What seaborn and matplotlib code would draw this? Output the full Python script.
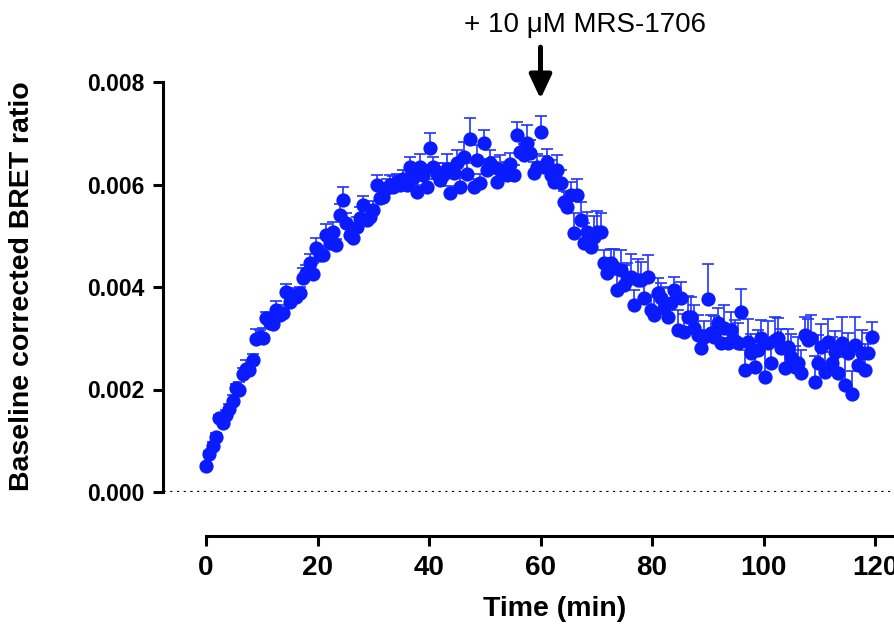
import numpy as np
import pandas as pd
import matplotlib
matplotlib.use("Agg")
import matplotlib.pyplot as plt
import seaborn as sns

# ---- data (values x 1e-3) ----
time_min = [round(i * 0.6, 1) for i in range(200)]

bret_milli = [
    0.50, 0.74, 0.90, 1.08, 1.45, 1.35, 1.50, 1.62, 1.78, 2.03,
    2.00, 2.30, 2.40, 2.38, 2.58, 2.98, 3.02, 3.00, 3.40, 3.30,
    3.28, 3.55, 3.45, 3.50, 3.90, 3.70, 3.82, 3.80, 3.88, 4.18,
    4.27, 4.47, 4.25, 4.76, 4.62, 4.62, 5.01, 4.86, 5.07, 4.82,
    5.40, 5.70, 5.25, 5.01, 4.96, 5.17, 5.35, 5.60, 5.30, 5.37,
    5.50, 5.99, 5.74, 5.76, 5.93, 5.99, 5.95, 6.05, 5.99, 6.10,
    5.99, 6.34, 6.13, 5.85, 6.34, 6.19, 5.95, 6.71, 6.34, 6.20,
    6.09, 6.19, 6.30, 5.83, 6.22, 6.42, 5.95, 6.54, 6.20, 6.89,
    5.95, 6.48, 6.03, 6.81, 6.28, 6.42, 6.34, 6.05, 6.28, 6.20,
    6.19, 6.40, 6.19, 6.97, 6.64, 6.58, 6.81, 6.62, 6.22, 6.35,
    7.03, 6.34, 6.44, 6.19, 6.05, 6.28, 6.03, 5.66, 5.56, 5.80,
    5.05, 5.80, 5.31, 4.86, 5.07, 4.78, 4.98, 5.07, 5.07, 4.47,
    4.27, 4.47, 4.40, 3.94, 4.33, 4.04, 4.14, 4.20, 3.65, 4.14,
    4.14, 3.79, 4.20, 3.55, 3.45, 3.88, 3.79, 3.60, 3.42, 3.69,
    3.94, 3.16, 3.79, 3.12, 3.42, 3.42, 3.20, 3.06, 2.81, 3.03,
    3.77, 3.10, 3.03, 3.30, 2.91, 3.20, 2.91, 3.16, 2.95, 2.91,
    3.51, 2.38, 2.93, 2.71, 2.44, 2.77, 3.00, 2.25, 2.91, 2.52,
    2.97, 3.00, 2.81, 2.42, 2.83, 2.63, 2.44, 2.52, 2.32, 3.06,
    2.97, 3.00, 2.15, 2.52, 2.83, 2.34, 2.93, 2.52, 2.73, 2.32,
    2.91, 2.09, 2.71, 1.91, 2.87, 2.48, 2.71, 2.38, 2.71, 3.03,
]

sem_milli = [
    0.05, 0.06, 0.07, 0.08, 0.06, 0.08, 0.10, 0.09, 0.12, 0.08,
    0.15, 0.12, 0.18, 0.10, 0.12, 0.20, 0.15, 0.20, 0.12, 0.18,
    0.15, 0.18, 0.20, 0.10, 0.16, 0.20, 0.15, 0.18, 0.12, 0.20,
    0.15, 0.18, 0.22, 0.20, 0.15, 0.18, 0.22, 0.18, 0.20, 0.12,
    0.22, 0.25, 0.20, 0.15, 0.18, 0.20, 0.22, 0.18, 0.25, 0.15,
    0.18, 0.20, 0.15, 0.25, 0.18, 0.20, 0.22, 0.15, 0.20, 0.18,
    0.22, 0.20, 0.18, 0.15, 0.25, 0.20, 0.15, 0.30, 0.20, 0.22,
    0.25, 0.22, 0.30, 0.15, 0.20, 0.25, 0.18, 0.28, 0.22, 0.40,
    0.15, 0.30, 0.18, 0.25, 0.22, 0.25, 0.20, 0.18, 0.30, 0.22,
    0.25, 0.22, 0.20, 0.25, 0.20, 0.22, 0.35, 0.25, 0.22, 0.25,
    0.30, 0.22, 0.25, 0.28, 0.22, 0.30, 0.25, 0.22, 0.30, 0.25,
    0.40, 0.30, 0.35, 0.38, 0.40, 0.35, 0.40, 0.42, 0.38, 0.25,
    0.30, 0.28, 0.35, 0.30, 0.40, 0.38, 0.32, 0.45, 0.30, 0.40,
    0.35, 0.30, 0.42, 0.30, 0.35, 0.30, 0.28, 0.40, 0.35, 0.30,
    0.25, 0.40, 0.30, 0.35, 0.40, 0.38, 0.45, 0.40, 0.35, 0.30,
    0.68, 0.35, 0.40, 0.30, 0.38, 0.45, 0.30, 0.35, 0.40, 0.38,
    0.45, 0.40, 0.45, 0.38, 0.50, 0.40, 0.35, 0.55, 0.42, 0.45,
    0.45, 0.40, 0.38, 0.50, 0.35, 0.45, 0.40, 0.50, 0.45, 0.35,
    0.40, 0.45, 0.50, 0.55, 0.45, 0.40, 0.45, 0.50, 0.42, 0.55,
    0.50, 0.55, 0.40, 0.45, 0.55, 0.40, 0.45, 0.50, 0.40, 0.28,
]

y_ticks = [0.000, 0.002, 0.004, 0.006, 0.008]
x_ticks = [0, 20, 40, 60, 80, 100, 120]
addition_time = 60
annotation_text = "+ 10 \u03bcM MRS-1706"

df = pd.DataFrame({
    "time": time_min,
    "bret": np.array(bret_milli) * 1e-3,
    "sem": np.array(sem_milli) * 1e-3,
})

# ---- style ----
sns.set_theme(style="ticks")
plt.rcParams["font.family"] = ["Liberation Sans", "DejaVu Sans"]

W, H = 894, 625
fig = plt.figure(figsize=(W / 100, H / 100), dpi=100)
ax_left, ax_right, ax_top, ax_bot = 163, 894, 82, 492
ax = fig.add_axes([ax_left / W, (H - ax_bot) / H,
                   (ax_right - ax_left) / W, (ax_bot - ax_top) / H])

pt_color = "#0a1cff"
err_color = "#2034ff"

# error bars (upper only)
ax.errorbar(df["time"], df["bret"], yerr=[np.zeros(len(df)), df["sem"]],
            fmt="none", ecolor=err_color, elinewidth=1.2, capsize=4.6,
            capthick=1.2, zorder=2)

sns.scatterplot(data=df, x="time", y="bret", ax=ax, s=105, color=pt_color,
                edgecolor=pt_color, linewidth=0, zorder=3, legend=False)

# dotted baseline
ax.axhline(0, color="black", lw=2.3, ls=(0, (0.7, 1.4)), zorder=1)

# axes limits and spines
x0_px, x120_px = 206, 875
px_per_min = (x120_px - x0_px) / 120.0
xmin = (ax_left - x0_px) / px_per_min
xmax = (ax_right - x0_px) / px_per_min
ax.set_xlim(xmin, xmax)
ax.set_ylim(0, 0.008)

for s in ["top", "right"]:
    ax.spines[s].set_visible(False)
ax.spines["left"].set_bounds(0, 0.008)
ax.spines["left"].set_linewidth(2.2)
ax.spines["left"].set_color("black")
ax.spines["bottom"].set_position(("outward", 31.5))
ax.spines["bottom"].set_bounds(0, xmax)
ax.spines["bottom"].set_linewidth(2.2)
ax.spines["bottom"].set_color("black")

ax.set_yticks(y_ticks)
ax.set_yticklabels([f"{v:.3f}" for v in y_ticks])
ax.set_xticks(x_ticks)
ax.set_xticklabels([str(v) for v in x_ticks])
ax.tick_params(axis="both", which="major", length=7.5, width=2.2,
               color="black", direction="out")
ax.tick_params(axis="y", labelsize=16.5, pad=6)
ax.tick_params(axis="x", labelsize=20, pad=6.5)
for lab in ax.get_xticklabels() + ax.get_yticklabels():
    lab.set_fontweight("bold")
    lab.set_color("black")

ax.set_xlabel("")
ax.set_ylabel("")
fig.text(555 / W, 1 - 609 / H, "Time (min)", ha="center", va="center",
         fontsize=20.5, fontweight="bold", color="black")
fig.text(22 / W, 1 - 286 / H, "Baseline corrected BRET ratio", ha="center",
         va="center", rotation=90, fontsize=20.5, fontweight="bold",
         color="black")

# annotation: arrow + text
ax.annotate("", xy=(addition_time, 0.00767), xytext=(addition_time, 0.00868),
            xycoords="data", textcoords="data", annotation_clip=False,
            arrowprops=dict(arrowstyle="-|>,head_length=0.9,head_width=0.42",
                            mutation_scale=16, lw=3.6, color="black",
                            shrinkA=0, shrinkB=0))
fig.text(585 / W, 1 - 25 / H, annotation_text, ha="center", va="center",
         fontsize=20, color="black")

fig.savefig("out.png", dpi=100)
